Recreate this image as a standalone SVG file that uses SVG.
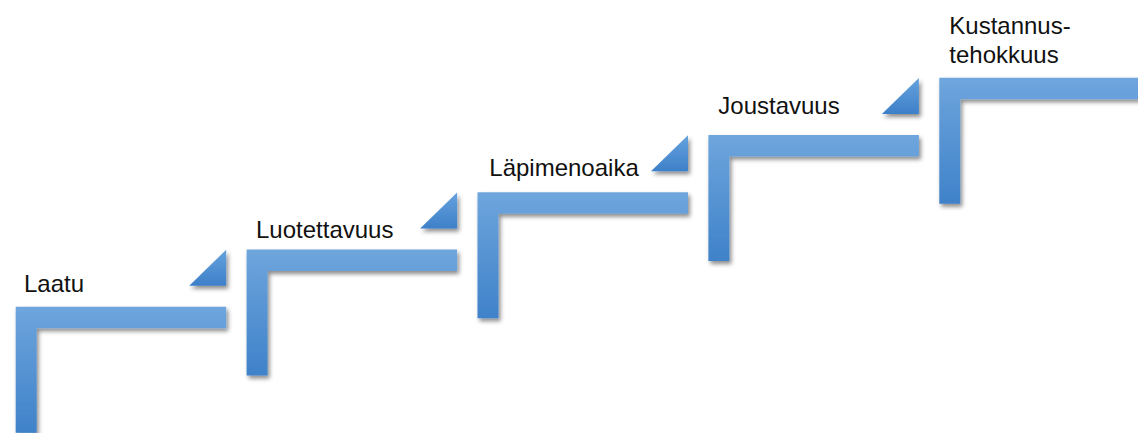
<svg xmlns="http://www.w3.org/2000/svg" width="1138" height="433" viewBox="0 0 1138 433">
  <defs>
    <linearGradient id="gL" x1="0" y1="0" x2="0" y2="1">
      <stop offset="0" stop-color="#6fa6dd"/>
      <stop offset="0.25" stop-color="#629cd8"/>
      <stop offset="1" stop-color="#3f82c9"/>
    </linearGradient>
    <linearGradient id="gT" x1="0" y1="0" x2="0" y2="1">
      <stop offset="0" stop-color="#66a2de"/>
      <stop offset="1" stop-color="#3d80c8"/>
    </linearGradient>
    <filter id="sh" x="-20%" y="-20%" width="150%" height="150%">
      <feDropShadow dx="2" dy="3" stdDeviation="2.2" flood-color="#000" flood-opacity="0.45"/>
    </filter>
  </defs>
  <style>
    .step { fill: url(#gL); filter: url(#sh); }
    .tri { fill: url(#gT); filter: url(#sh); }
    .lbl { font-family: "Liberation Sans", Arial, sans-serif; font-size: 24px; fill: #111; }
  </style>
  <rect width="1138" height="433" fill="#fff"/>

  <g id="step-laatu" transform="translate(15.7,306.7)">
    <path class="step" d="M0 0 H210.5 V21.5 H21 V126 H0 Z"/>
    <polygon class="tri" points="173.5,-21 210.5,-57 210.5,-21"/>
    <text class="lbl" x="8.3" y="-14.4">Laatu</text>
  </g>

  <g id="step-luotettavuus" transform="translate(246.6,249.45)">
    <path class="step" d="M0 0 H210.5 V21.5 H21 V126 H0 Z"/>
    <polygon class="tri" points="173.5,-21 210.5,-57 210.5,-21"/>
    <text class="lbl" x="9.4" y="-11.8">Luotettavuus</text>
  </g>

  <g id="step-lapimenoaika" transform="translate(477.5,192.2)">
    <path class="step" d="M0 0 H210.5 V21.5 H21 V126 H0 Z"/>
    <polygon class="tri" points="173.5,-21 210.5,-57 210.5,-21"/>
    <text class="lbl" x="11.8" y="-16.5">Läpimenoaika</text>
  </g>

  <g id="step-joustavuus" transform="translate(708.4,134.95)">
    <path class="step" d="M0 0 H210.5 V21.5 H21 V126 H0 Z"/>
    <polygon class="tri" points="173.5,-21 210.5,-57 210.5,-21"/>
    <text class="lbl" x="9.9" y="-20.6">Joustavuus</text>
  </g>

  <g id="step-kustannustehokkuus" transform="translate(939.3,77.7)">
    <path class="step" d="M0 0 H210.5 V21.5 H21 V126 H0 Z"/>
    <text class="lbl" x="10" y="-43.4">Kustannus-</text>
    <text class="lbl" x="10" y="-15">tehokkuus</text>
  </g>

  <g id="connectors"></g>
</svg>
